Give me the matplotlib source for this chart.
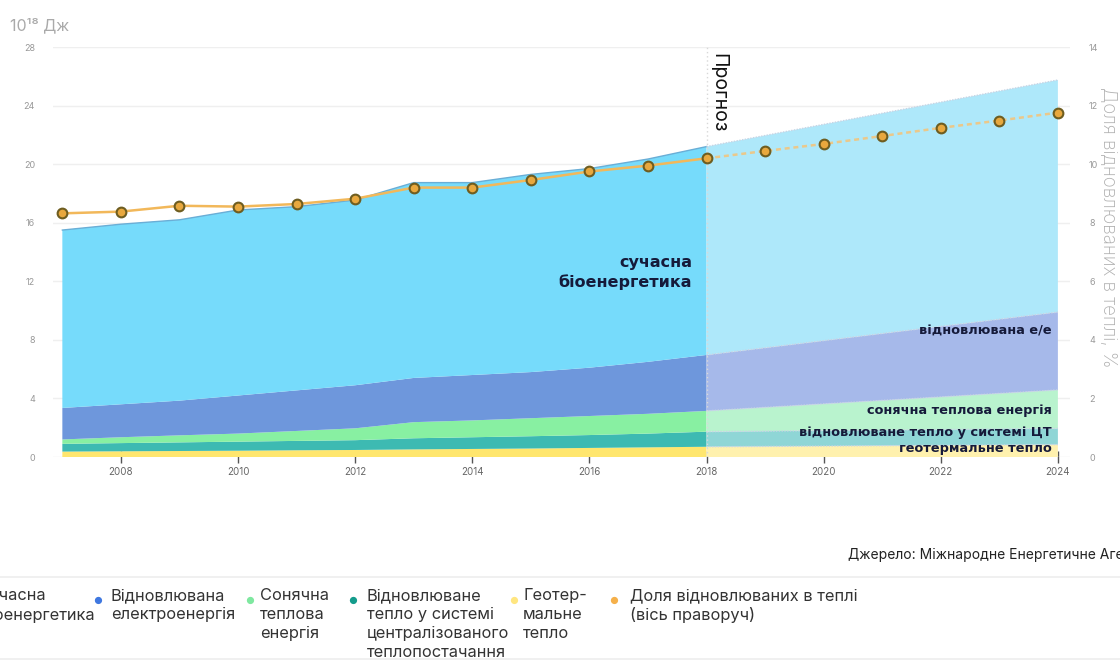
import numpy as np
import matplotlib.pyplot as plt
import matplotlib.ticker as plticker

plt.rcParams['font.family'] = ['Inter', 'DejaVu Sans']

# historical data, 10^18 J
years = [2007, 2008, 2009, 2010, 2011, 2012, 2013, 2014, 2015, 2016, 2017, 2018]
geo = [0.37, 0.39, 0.41, 0.43, 0.46, 0.48, 0.52, 0.55, 0.58, 0.62, 0.66, 0.70]
district = [0.53, 0.56, 0.59, 0.62, 0.64, 0.67, 0.76, 0.80, 0.84, 0.88, 0.94, 1.03]
solar = [0.30, 0.40, 0.48, 0.55, 0.68, 0.81, 1.10, 1.15, 1.23, 1.30, 1.35, 1.42]
elec = [2.15, 2.25, 2.37, 2.60, 2.77, 2.94, 3.02, 3.10, 3.15, 3.30, 3.55, 3.82]
bio = [12.15, 12.30, 12.35, 12.67, 12.55, 12.65, 13.34, 13.14, 13.50, 13.60, 13.85, 14.23]

# forecast
f_years = [2018, 2024]
f_geo = [0.70, 0.85]
f_district = [1.03, 1.10]
f_solar = [1.42, 2.63]
f_elec = [3.82, 5.32]
f_bio = [14.23, 15.85]

# share of renewables in heat, % (right axis)
share_years = list(range(2007, 2025))
share = [8.32, 8.38, 8.58, 8.55, 8.64, 8.82, 9.20, 9.20, 9.46, 9.75, 9.95, 10.20,
         10.45, 10.69, 10.96, 11.24, 11.49, 11.76]

cols = ['#FFE66E', '#3DBAB2', '#88F0A2', '#6E97DC', '#76DBFB']
f_cols = ['#FFF1AE', '#8FD6D6', '#B9F3CE', '#A6B9EA', '#AEE8FA']

fig = plt.figure(figsize=(11.2, 6.66), dpi=100)
ax = fig.add_axes([0.0473, 0.3138, 0.9077, 0.6156])

ax.stackplot(years, geo, district, solar, elec, bio, colors=cols, lw=0, zorder=2)
ax.stackplot(f_years, f_geo, f_district, f_solar, f_elec, f_bio, colors=f_cols, lw=0, zorder=2)

# top edges
tops = np.cumsum([geo, district, solar, elec, bio], axis=0)
f_tops = np.cumsum([f_geo, f_district, f_solar, f_elec, f_bio], axis=0)
ax.plot(years, tops[-1], color='#6aaed6', lw=1, zorder=3)
for t in f_tops:
    ax.plot(f_years, t, color='#c8d4e4', lw=1, ls=(0, (1, 1)), zorder=3)

ax.set_xlim(2006.84, 2024.2)
ax.set_ylim(0, 28)
ax.yaxis.set_major_locator(plticker.MultipleLocator(4))
ax.xaxis.set_major_locator(plticker.MultipleLocator(2))
ax.grid(axis='y', color='#efefef', lw=1, zorder=0)
ax.set_axisbelow(True)
for s in ax.spines.values():
    s.set_visible(False)
ax.tick_params(axis='y', length=0, labelsize=6.5, labelcolor='#999999', pad=13)
ax.tick_params(axis='x', direction='inout', length=9, width=1, color='#555555',
               labelsize=7, labelcolor='#666666', pad=3)

ax.axvline(2018, color='#d8d8d8', lw=1, ls=(0, (1, 2)), zorder=4)
ax.text(2018.05, 27.6, 'Прогноз', rotation=-90, ha='left', va='top', fontsize=14,
        color='#111111', zorder=6)

# share line
ax2 = ax.twinx()
ax2.set_ylim(0, 14)
ax2.yaxis.set_major_locator(plticker.MultipleLocator(2))
for s in ax2.spines.values():
    s.set_visible(False)
ax2.tick_params(axis='y', length=0, labelsize=6.5, labelcolor='#999999', pad=14)
n_hist = len(years)
ax2.plot(share_years[:n_hist], share[:n_hist], color='#F2B85A', lw=1.8, zorder=5)
ax2.plot(share_years[n_hist - 1:], share[n_hist - 1:], color='#EBC88A', lw=1.8,
         ls=(0, (2, 1.5)), zorder=5)
ax2.plot(share_years, share, ls='none', marker='o', ms=7, mfc='#E8A83E', mec='#6e5d20',
         mew=1.5, zorder=6)
ax2.set_ylabel('Доля відновлюваних в теплі, %', rotation=-90, fontsize=13.5, color='#b0b0b0',
               fontweight='light')
ax2.yaxis.set_label_coords(1.047, 0.56)

# in-chart labels
lab = dict(ha='right', fontweight='bold', color='#151a3a', zorder=7, family='DejaVu Sans')
ax.text(2017.75, 12.6, 'сучасна\nбіоенергетика', fontsize=11.5, va='center', linespacing=1.3, **lab)
ax.text(2023.9, 8.6, 'відновлювана е/е', fontsize=9.3, va='center', **lab)
ax.text(2023.9, 3.2, 'сонячна теплова енергія', fontsize=9.3, va='center', **lab)
ax.text(2023.9, 1.7, 'відновлюване тепло у системі ЦТ', fontsize=9.3, va='center', **lab)
ax.text(2023.9, 0.6, 'геотермальне тепло', fontsize=9.3, va='center', **lab)

fig.text(0.009, 0.962, '10¹⁸ Дж', fontsize=11.5, color='#aaaaaa', va='center')
fig.text(0.757, 0.166, 'Джерело: Міжнародне Енергетичне Агентство', fontsize=10,
         color='#222222', va='center')

# legend strip
fig.add_artist(plt.Line2D([0, 1], [0.134, 0.134], color='#eeeeee', lw=1.2))
fig.add_artist(plt.Line2D([0, 1], [0.01, 0.01], color='#eeeeee', lw=1.2))
leg_dots = ['#76DBFB', '#3F78E0', '#7FE8A0', '#149C8C', '#FFE680', '#F5B04A']
leg_labels = ['сучасна\nбіоенергетика', 'Відновлювана\nелектроенергія', 'Сонячна\nтеплова\nенергія',
              'Відновлюване\nтепло у системі\nцентралізованого\nтеплопостачання',
              'Геотер-\nмальне\nтепло', 'Доля відновлюваних в теплі\n(вісь праворуч)']
dot_x = [-0.028, 0.0875, 0.2232, 0.3152, 0.4585, 0.5482]
txt_x = [-0.018, 0.0990, 0.2321, 0.3275, 0.4670, 0.5625]
for dx, tx, c, t in zip(dot_x, txt_x, leg_dots, leg_labels):
    fig.text(dx, 0.0985, '●', color=c, fontsize=7, ha='center', va='center')
    fig.text(tx, 0.117, t, fontsize=11.8, color='#333333', va='top', linespacing=1.33)

fig.savefig('out.png', dpi=100)
